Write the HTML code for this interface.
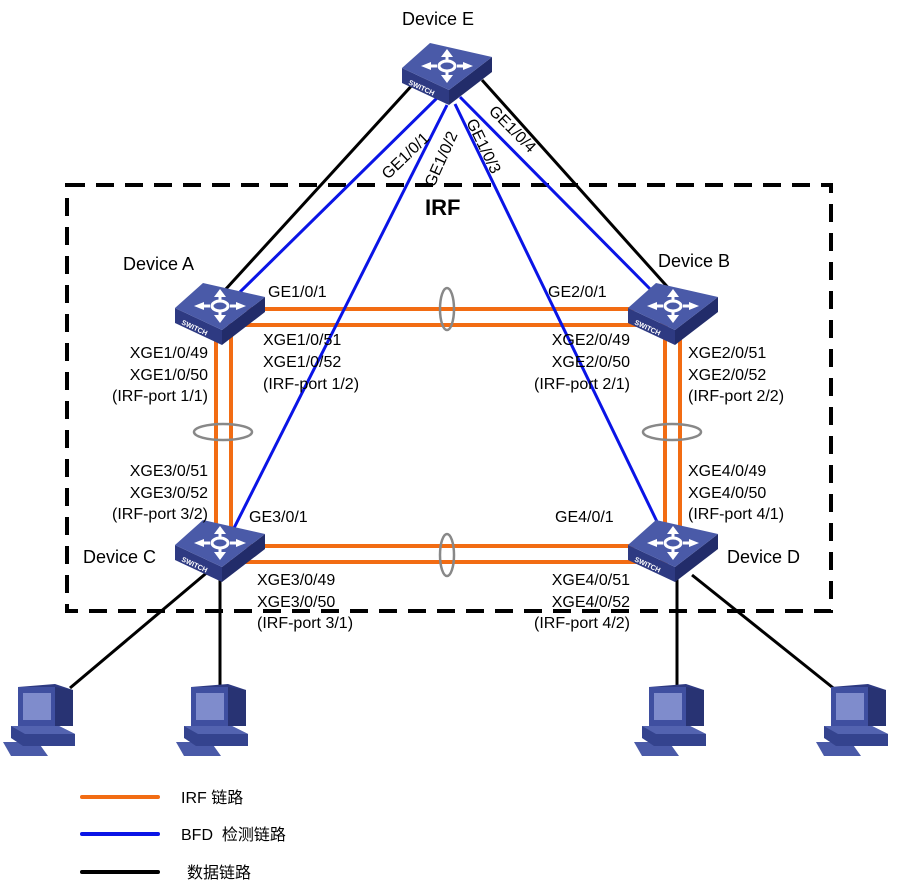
<!DOCTYPE html>
<html><head><meta charset="utf-8"><style>
html,body{margin:0;padding:0;background:#fff;}
svg{display:block;}
text{font-family:"Liberation Sans","Noto Sans CJK SC",sans-serif;font-size:16px;fill:#000;}
</style></head><body>
<svg width="904" height="888" viewBox="0 0 904 888" xmlns="http://www.w3.org/2000/svg">
<defs>
<g id="sw">
  <polygon points="0,25 47,47 47,62 0,40" fill="#2e3a82"/>
  <polygon points="47,47 90,14 90,29 47,62" fill="#222c6a"/>
  <polygon points="0,25 28,0 90,14 47,47" fill="#4a5aa8"/>
  <g fill="#fff" transform="translate(45,23)">
    <ellipse cx="0" cy="0" rx="8" ry="5" fill="none" stroke="#fff" stroke-width="3"/>
    <polygon points="-6,-9 0,-17 6,-9"/>
    <polygon points="-6,9 0,17 6,9"/>
    <polygon points="-16,-4 -26,0 -16,4"/>
    <polygon points="16,-4 26,0 16,4"/>
    <rect x="-1.5" y="-11" width="3" height="5"/><rect x="-1.5" y="6" width="3" height="5"/>
    <rect x="-18" y="-1.5" width="8" height="3"/><rect x="10" y="-1.5" width="8" height="3"/>
  </g>
  <text x="6" y="41" transform="rotate(25 6 41)" style="font-size:7px;font-weight:bold;fill:#fff">SWITCH</text>
</g>
<g id="pc">
  <polygon points="0,60 35,60 45,74 8,74" fill="#4a5aa8"/>
  <polygon points="8,44 56,44 72,52 72,64 20,64 8,56" fill="#34438e"/>
  <polygon points="8,44 56,44 72,52 22,52" fill="#5363b0"/>
  <polygon points="15,5 52,2 70,8 70,44 15,44" fill="#2e3a82"/>
  <polygon points="15,5 52,5 52,44 15,44" fill="#3f4fa0"/>
  <rect x="20" y="11" width="28" height="27" fill="#7f8ccc"/>
  <polygon points="52,5 70,8 70,44 52,44" fill="#283373"/>
</g>
</defs>

<rect x="67" y="185" width="764" height="426" fill="none" stroke="#000" stroke-width="4" stroke-dasharray="18,11"/>
<text x="425" y="215" style="font-size:22px;font-weight:bold">IRF</text>

<g stroke="#000" stroke-width="3">
  <line x1="415" y1="82" x2="225" y2="290"/>
  <line x1="482" y1="80" x2="672" y2="292"/>
  <line x1="210" y1="570" x2="70" y2="688"/>
  <line x1="220" y1="575" x2="220" y2="690"/>
  <line x1="677" y1="575" x2="677" y2="690"/>
  <line x1="692" y1="575" x2="842" y2="695"/>
</g>

<g stroke="#f26c13" stroke-width="4">
  <line x1="228" y1="309" x2="668" y2="309"/>
  <line x1="228" y1="325" x2="668" y2="325"/>
  <line x1="216" y1="330" x2="216" y2="540"/>
  <line x1="231" y1="330" x2="231" y2="540"/>
  <line x1="665" y1="330" x2="665" y2="540"/>
  <line x1="680" y1="330" x2="680" y2="540"/>
  <line x1="230" y1="546" x2="668" y2="546"/>
  <line x1="230" y1="562" x2="668" y2="562"/>
</g>
<g fill="none" stroke="#888" stroke-width="2.5">
  <ellipse cx="447" cy="309" rx="7" ry="21"/>
  <ellipse cx="223" cy="432" rx="29" ry="8"/>
  <ellipse cx="672" cy="432" rx="29" ry="8"/>
  <ellipse cx="447" cy="555" rx="7" ry="21"/>
</g>

<g stroke="#0a14e6" stroke-width="3">
  <line x1="437" y1="98" x2="240" y2="292"/>
  <line x1="447" y1="105" x2="232" y2="532"/>
  <line x1="455" y1="104" x2="662" y2="532"/>
  <line x1="460" y1="97" x2="656" y2="295"/>
</g>

<use href="#sw" x="402" y="43"/>
<use href="#sw" x="175" y="283"/>
<use href="#sw" x="628" y="283"/>
<use href="#sw" x="175" y="520"/>
<use href="#sw" x="628" y="520"/>

<use href="#pc" x="3" y="682"/>
<use href="#pc" x="176" y="682"/>
<use href="#pc" x="634" y="682"/>
<use href="#pc" x="816" y="682"/>

<text transform="translate(388,180) rotate(-44)">GE1/0/1</text>
<text transform="translate(434,188) rotate(-66)">GE1/0/2</text>
<text transform="translate(466,122) rotate(64)">GE1/0/3</text>
<text transform="translate(488,112) rotate(45)">GE1/0/4</text>

<text x="402" y="25" style="font-size:18px">Device E</text>
<text x="123" y="270" style="font-size:18px">Device A</text>
<text x="658" y="267" style="font-size:18px">Device B</text>
<text x="83" y="563" style="font-size:18px">Device C</text>
<text x="727" y="563" style="font-size:18px">Device D</text>

<text x="268" y="297">GE1/0/1</text>
<text x="548" y="297">GE2/0/1</text>
<text x="249" y="522">GE3/0/1</text>
<text x="555" y="522">GE4/0/1</text>

<g text-anchor="end">
  <text x="208" y="358">XGE1/0/49</text>
  <text x="208" y="380">XGE1/0/50</text>
  <text x="208" y="401">(IRF-port 1/1)</text>
  <text x="208" y="476">XGE3/0/51</text>
  <text x="208" y="498">XGE3/0/52</text>
  <text x="208" y="519">(IRF-port 3/2)</text>
  <text x="630" y="345">XGE2/0/49</text>
  <text x="630" y="367">XGE2/0/50</text>
  <text x="630" y="389">(IRF-port 2/1)</text>
  <text x="630" y="585">XGE4/0/51</text>
  <text x="630" y="607">XGE4/0/52</text>
  <text x="630" y="628">(IRF-port 4/2)</text>
</g>
<text x="263" y="345">XGE1/0/51</text>
<text x="263" y="367">XGE1/0/52</text>
<text x="263" y="389">(IRF-port 1/2)</text>
<text x="688" y="358">XGE2/0/51</text>
<text x="688" y="380">XGE2/0/52</text>
<text x="688" y="401">(IRF-port 2/2)</text>
<text x="688" y="476">XGE4/0/49</text>
<text x="688" y="498">XGE4/0/50</text>
<text x="688" y="519">(IRF-port 4/1)</text>
<text x="257" y="585">XGE3/0/49</text>
<text x="257" y="607">XGE3/0/50</text>
<text x="257" y="628">(IRF-port 3/1)</text>

<line x1="82" y1="797" x2="158" y2="797" stroke="#f26c13" stroke-width="4" stroke-linecap="round"/>
<line x1="82" y1="834" x2="158" y2="834" stroke="#0a14e6" stroke-width="4" stroke-linecap="round"/>
<line x1="82" y1="872" x2="158" y2="872" stroke="#000" stroke-width="4" stroke-linecap="round"/>
<text x="181" y="803">IRF 链路</text>
<text x="181" y="840">BFD&#160;&#160;检测链路</text>
<text x="187" y="878">数据链路</text>
</svg>
</body></html>
